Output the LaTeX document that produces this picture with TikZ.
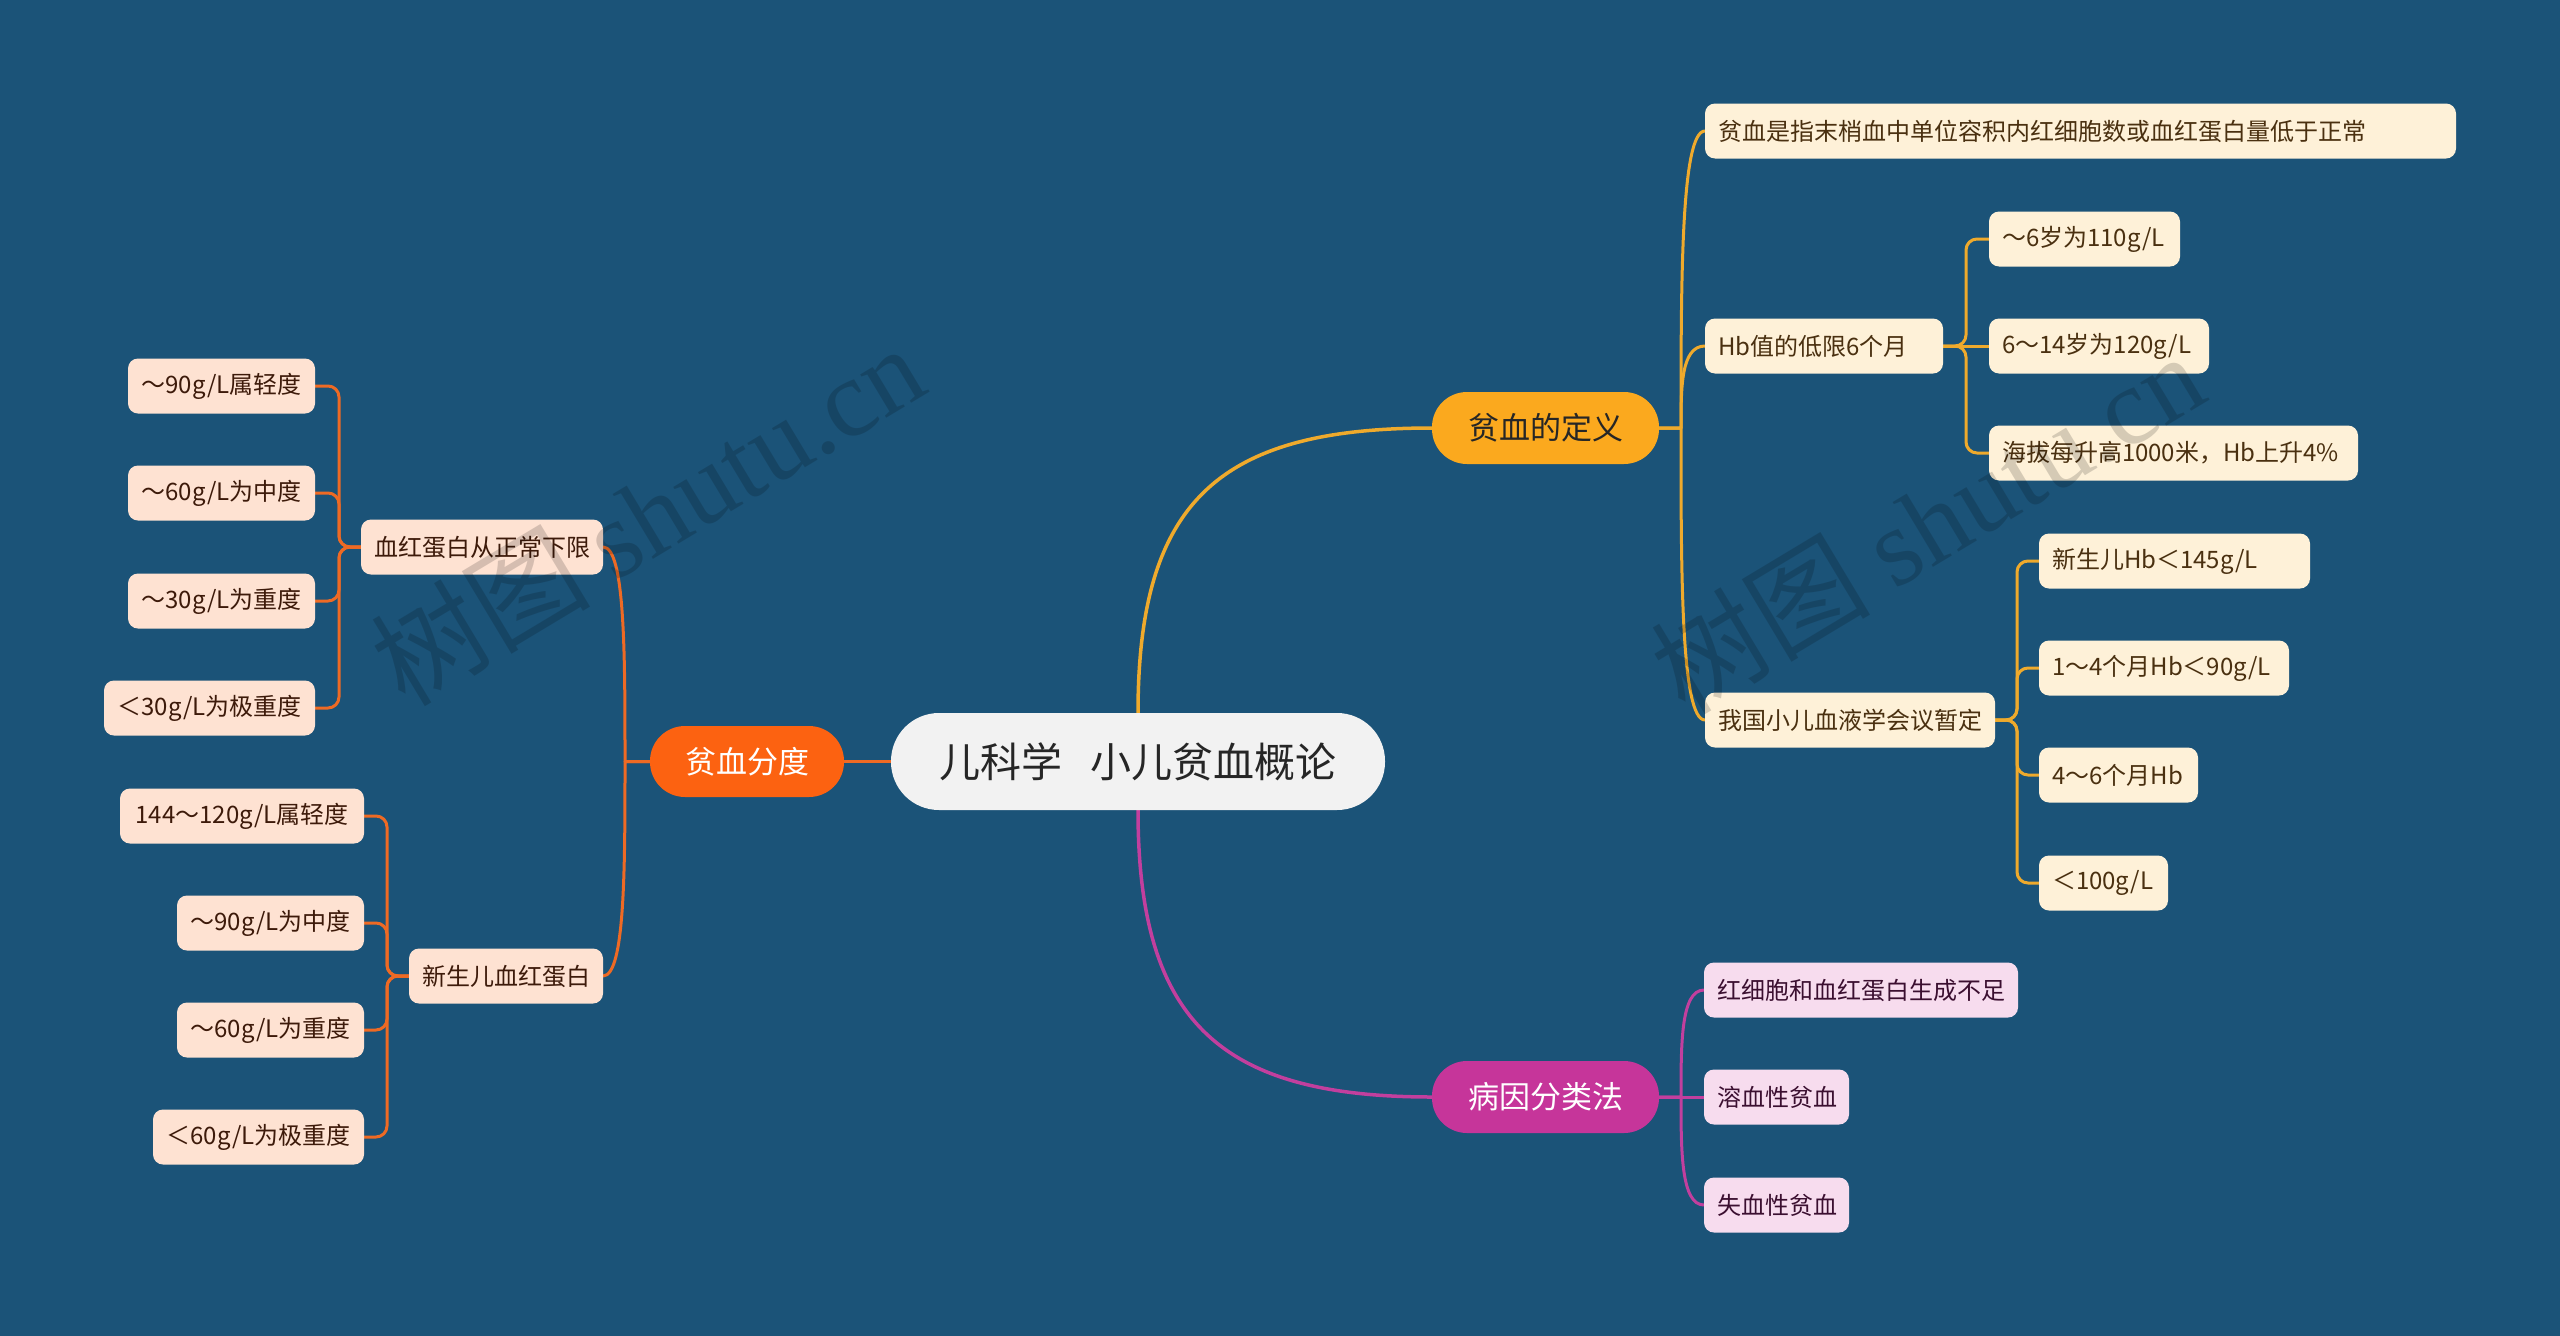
\documentclass[tikz,border=0pt]{standalone}
\usepackage{fontspec}
\setmainfont{Noto Sans CJK SC}
\newfontfamily\wmfont{Liberation Serif}
\usetikzlibrary{backgrounds}
\definecolor{bg}{HTML}{1B5378}
\definecolor{orangeN}{HTML}{FC6211}
\definecolor{orangeL}{HTML}{EE6A24}
\definecolor{amberN}{HTML}{FBA91E}
\definecolor{amberL}{HTML}{EFAA2C}
\definecolor{magN}{HTML}{C6359A}
\definecolor{magL}{HTML}{C23F9E}
\definecolor{centerF}{HTML}{F2F2F2}
\definecolor{cream}{HTML}{FEF1D8}
\definecolor{peach}{HTML}{FEE2D2}
\definecolor{pink}{HTML}{F7DCEE}
\definecolor{ambtext}{HTML}{4A3010}
\definecolor{peachtext}{HTML}{3D1A0A}
\definecolor{pinktext}{HTML}{3B0F30}
\definecolor{darktext}{HTML}{262626}
\begin{document}
\begin{tikzpicture}[x=1pt,y=-1pt,
  every node/.style={inner sep=0pt, outer sep=0pt},
  rootbox/.style={fill=centerF, text=darktext, rounded corners=48pt, minimum width=494pt, minimum height=97pt, font=\fontsize{41}{46}\selectfont},
  mainbox/.style={rounded corners=35pt, minimum width=227pt, minimum height=72pt, font=\fontsize{31}{36}\selectfont},
  subbox/.style={rounded corners=10pt, minimum height=55pt, inner xsep=13pt, font=\fontsize{24}{28}\selectfont},
  ambbox/.style={subbox, fill=cream, text=ambtext, anchor=west, text width=#1, align=left},
  pinkbox/.style={subbox, fill=pink, text=pinktext, anchor=west, text width=#1, align=left},
  peachbox/.style={subbox, fill=peach, text=peachtext, anchor=east, minimum width=#1, align=center},
  conn/.style={line width=3pt, line cap=round, line join=round},
  mainconn/.style={line width=3.5pt, line cap=round},
  wmark/.style={text=black, opacity=0.16, rotate=31, font=\fontsize{110}{110}\selectfont}
]
\useasboundingbox (0,0) rectangle (2560,1336);

% nodes
\node[rootbox] (c) at (1138,761.5) {儿科学\hspace{0.7em}小儿贫血概论};
\node[mainbox, fill=orangeN, text=white, minimum width=194pt, minimum height=71pt] (fd) at (747,761.5) {贫血分度};
\node[mainbox, fill=amberN, text=darktext] (dy) at (1545.5,428) {贫血的定义};
\node[mainbox, fill=magN, text=white] (by) at (1545.5,1097) {病因分类法};

% amber branch
\node[ambbox=725pt] (a1) at (1705,131) {贫血是指末梢血中单位容积内红细胞数或血红蛋白量低于正常};
\node[ambbox=212pt] (a2) at (1705,346) {Hb值的低限6个月};
\node[ambbox=264pt] (a3) at (1705,720) {我国小儿血液学会议暂定};
\node[ambbox=165pt] (b1) at (1989,239) {～6岁为110g/L};
\node[ambbox=194pt] (b2) at (1989,346) {6～14岁为120g/L};
\node[ambbox=343pt] (b3) at (1989,453) {海拔每升高1000米，Hb上升4\%};
\node[ambbox=245pt] (g1) at (2039,561) {新生儿Hb＜145g/L};
\node[ambbox=224pt] (g2) at (2039,668) {1～4个月Hb＜90g/L};
\node[ambbox=133pt] (g3) at (2039,775) {4～6个月Hb};
\node[ambbox=103pt] (g4) at (2039,883) {＜100g/L};

% magenta branch
\node[pinkbox=288pt] (p1) at (1704,990) {红细胞和血红蛋白生成不足};
\node[pinkbox=119pt] (p2) at (1704,1097) {溶血性贫血};
\node[pinkbox=119pt] (p3) at (1704,1205) {失血性贫血};

% orange branch
\node[peachbox=242pt] (l1) at (603,547) {血红蛋白从正常下限};
\node[peachbox=194pt] (l2) at (603,976) {新生儿血红蛋白};
\node[peachbox=187pt] (k1) at (315,386) {～90g/L属轻度};
\node[peachbox=187pt] (k2) at (315,493) {～60g/L为中度};
\node[peachbox=187pt] (k3) at (315,601) {～30g/L为重度};
\node[peachbox=211pt] (k4) at (315,708) {＜30g/L为极重度};
\node[peachbox=244pt] (m1) at (364,816) {144～120g/L属轻度};
\node[peachbox=187pt] (m2) at (364,923) {～90g/L为中度};
\node[peachbox=187pt] (m3) at (364,1030) {～60g/L为重度};
\node[peachbox=211pt] (m4) at (364,1137) {＜60g/L为极重度};

\begin{scope}[on background layer]
\fill[bg] (0,0) rectangle (2560,1336);
% level 1
\draw[mainconn, orangeL] (c.west) -- (fd.east);
\draw[mainconn, amberL] (c.north) .. controls (1138,500) and (1220,428) .. (dy.west);
\draw[mainconn, magL] (c.south) .. controls (1138,1022) and (1220,1097) .. (by.west);
% level 2 amber
\draw[conn, amberL] (dy.east) -- (1681,428) .. controls (1681,280) and (1681,131) .. (a1.west);
\draw[conn, amberL] (dy.east) -- (1681,428) .. controls (1681,387) and (1681,346) .. (a2.west);
\draw[conn, amberL] (dy.east) -- (1681,428) .. controls (1681,574) and (1681,720) .. (a3.west);
% level 2 magenta
\draw[conn, magL] (by.east) -- (1681,1097) .. controls (1681,1043) and (1681,990) .. (p1.west);
\draw[conn, magL] (by.east) -- (p2.west);
\draw[conn, magL] (by.east) -- (1681,1097) .. controls (1681,1151) and (1681,1205) .. (p3.west);
% level 2 orange
\draw[conn, orangeL] (fd.west) -- (625,761.5) .. controls (625,654) and (625,547) .. (l1.east);
\draw[conn, orangeL] (fd.west) -- (625,761.5) .. controls (625,868) and (625,976) .. (l2.east);
% level 3 brackets
\begin{scope}[conn, amberL, rounded corners=11pt]
\draw (a2.east) -- (1966,346) -- (1966,239) -- (b1.west);
\draw (a2.east) -- (b2.west);
\draw (a2.east) -- (1966,346) -- (1966,453) -- (b3.west);
\draw (a3.east) -- (2017,720) -- (2017,561) -- (g1.west);
\draw (a3.east) -- (2017,720) -- (2017,668) -- (g2.west);
\draw (a3.east) -- (2017,720) -- (2017,775) -- (g3.west);
\draw (a3.east) -- (2017,720) -- (2017,883) -- (g4.west);
\end{scope}
\begin{scope}[conn, orangeL, rounded corners=11pt]
\draw (l1.west) -- (339,547) -- (339,386) -- (k1.east);
\draw (l1.west) -- (339,547) -- (339,493) -- (k2.east);
\draw (l1.west) -- (339,547) -- (339,601) -- (k3.east);
\draw (l1.west) -- (339,547) -- (339,708) -- (k4.east);
\draw (l2.west) -- (387,976) -- (387,816) -- (m1.east);
\draw (l2.west) -- (387,976) -- (387,923) -- (m2.east);
\draw (l2.west) -- (387,976) -- (387,1030) -- (m3.east);
\draw (l2.west) -- (387,976) -- (387,1137) -- (m4.east);
\end{scope}
\end{scope}

% watermarks
\node[wmark] (w1) at (647,514) {树图 {\wmfont shutu.cn}};
\node[wmark] (w2) at (1927,522) {树图 {\wmfont shutu.cn}};
\end{tikzpicture}
\end{document}
